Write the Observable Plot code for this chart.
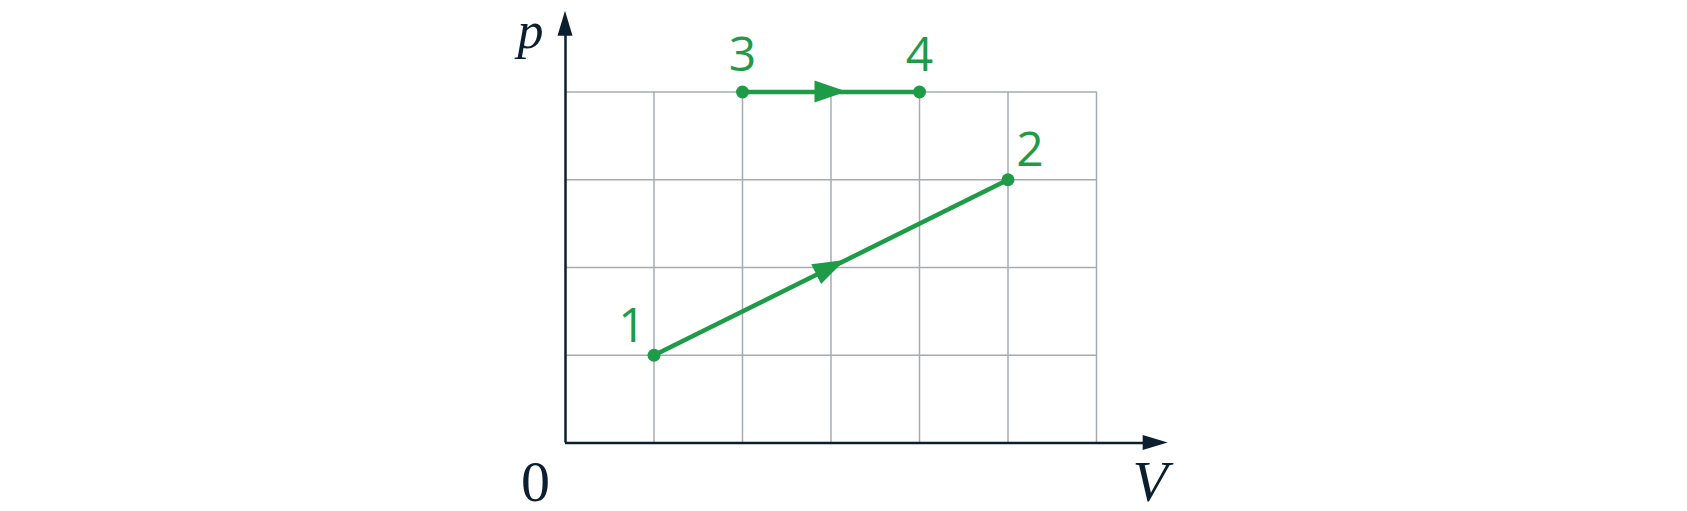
<!DOCTYPE html>
<html>
<head>
<meta charset="utf-8">
<script src="https://cdn.jsdelivr.net/npm/d3@7"></script>
<script src="https://cdn.jsdelivr.net/npm/@observablehq/plot@0.6"></script>
<style>
  html, body { margin: 0; padding: 0; background: #fff; }
  #chart svg { display: block; }
</style>
</head>
<body>
<div id="chart"></div>
<script>
// ---- data ----
const pointNames = ["1", "2", "3", "4"];
const pointV = [1, 5, 2, 4];
const pointP = [1, 3, 4, 4];
const processes = [["1", "2"], ["3", "4"]];
const gridV = [1, 2, 3, 4, 5, 6];
const gridP = [1, 2, 3, 4];
const vMax = 6, pMax = 4;
const axisVEnd = 6.81, axisPEnd = 4.92;
const axisLabels = ["p", "V", "0"];

// ---- style ----
const green = "#1e9b47";
const ink = "#0c1f2e";
const gridColor = "#a4acb1";

const points = pointNames.map((n, i) => ({name: n, V: pointV[i], p: pointP[i]}));
const byName = Object.fromEntries(points.map(d => [d.name, d]));
const segs = processes.map(([a, b]) => ({x1: byName[a].V, y1: byName[a].p, x2: byName[b].V, y2: byName[b].p}));

function headPath(tx, ty, ux, uy, len, half) {
  const bx = tx - ux * len, by = ty - uy * len;
  const nx = -uy, ny = ux;
  return `M${tx},${ty}L${bx + nx * half},${by + ny * half}L${bx - nx * half},${by - ny * half}Z`;
}

// mid-segment arrowheads drawn through the plot's scales
function midArrows(index, scales) {
  const g = d3.create("svg:g");
  for (const s of segs) {
    const x1 = scales.x(s.x1), y1 = scales.y(s.y1), x2 = scales.x(s.x2), y2 = scales.y(s.y2);
    const L = Math.hypot(x2 - x1, y2 - y1);
    const ux = (x2 - x1) / L, uy = (y2 - y1) / L;
    const mx = (x1 + x2) / 2, my = (y1 + y2) / 2;
    const len = 32, half = 11;
    g.append("path").attr("d", headPath(mx + ux * len / 2, my + uy * len / 2, ux, uy, len, half)).attr("fill", green);
  }
  return g.node();
}

function axisArrows(index, scales) {
  const g = d3.create("svg:g").attr("fill", ink);
  const x0 = scales.x(0), y0 = scales.y(0);
  g.append("path").attr("d", headPath(scales.x(axisVEnd), y0, 1, 0, 25, 7.5));
  g.append("path").attr("d", headPath(x0, scales.y(axisPEnd), 0, -1, 25, 7.5));
  return g.node();
}

const chart = Plot.plot({
  width: 1687,
  height: 511,
  marginLeft: 565,
  marginRight: 591,
  marginTop: 91.5,
  marginBottom: 68.5,
  x: {domain: [0, vMax], axis: null},
  y: {domain: [0, pMax], axis: null},
  style: {overflow: "visible", background: "#fff"},
  marks: [
    Plot.ruleX(gridV, {y1: 0, y2: pMax, stroke: gridColor, strokeWidth: 1.5}),
    Plot.ruleY(gridP, {x1: 0, x2: vMax, stroke: gridColor, strokeWidth: 1.5}),
    // axes
    Plot.ruleY([0], {x1: 0, x2: axisVEnd - 0.2, stroke: ink, strokeWidth: 2.5}),
    Plot.ruleX([0], {y1: 0, y2: axisPEnd - 0.2, stroke: ink, strokeWidth: 2.5}),
    axisArrows,
    // processes
    Plot.link(segs, {x1: "x1", y1: "y1", x2: "x2", y2: "y2", stroke: green, strokeWidth: 4.5}),
    midArrows,
    Plot.dot(points, {x: "V", y: "p", r: 6.5, fill: green}),
    Plot.text(points.filter(d => d.p === pMax), {x: "V", y: "p", text: "name", dy: -36, fill: green, fontSize: 48, fontFamily: "Open Sans"}),
    Plot.text(points.filter(d => d.name === "1"), {x: "V", y: "p", text: "name", dx: -22, dy: -29, fill: green, fontSize: 48, fontFamily: "Open Sans"}),
    Plot.text(points.filter(d => d.name === "2"), {x: "V", y: "p", text: "name", dx: 22, dy: -29, fill: green, fontSize: 48, fontFamily: "Open Sans"}),
    // axis labels
    Plot.text([axisLabels[0]], {x: 0, y: axisPEnd, text: d => d, dx: -35, dy: 20, fill: ink, fontSize: 52, fontFamily: "Liberation Serif", fontStyle: "italic"}),
    Plot.text([axisLabels[1]], {x: axisVEnd, y: 0, text: d => d, dx: -18, dy: 39, fill: ink, fontSize: 58, fontFamily: "Liberation Serif", fontStyle: "italic"}),
    Plot.text([axisLabels[2]], {x: 0, y: 0, text: d => d, dx: -30, dy: 39.5, fill: ink, fontSize: 58, fontFamily: "Liberation Serif"})
  ]
});
document.getElementById("chart").appendChild(chart);
</script>
</body>
</html>
